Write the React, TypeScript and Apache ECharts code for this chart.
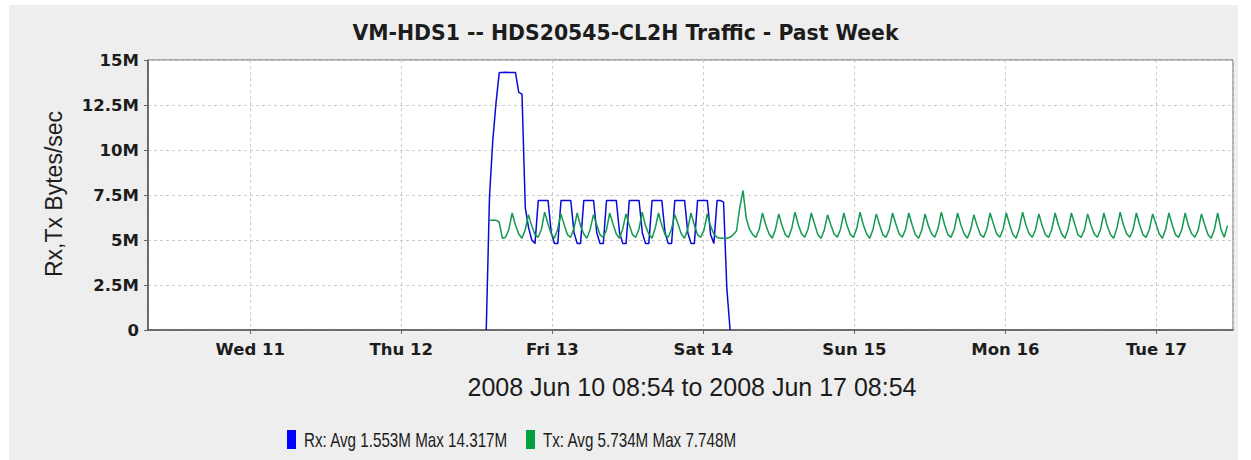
import React, { useEffect, useRef } from "react";
import * as echarts from "echarts";

const TITLE = "VM-HDS1 -- HDS20545-CL2H Traffic - Past Week";
const SUBTITLE = "2008 Jun 10 08:54 to 2008 Jun 17 08:54";
const Y_NAME = "Rx,Tx Bytes/sec";
const WEEKDAYS = ["Sun", "Mon", "Tue", "Wed", "Thu", "Fri", "Sat"];
const LEGEND_RX = "Rx: Avg 1.553M Max 14.317M";
const LEGEND_TX = "Tx: Avg 5.734M Max 7.748M";

// axis window (local time) [y, monthIndex, d, h, m]
const AXIS_START = [2008, 5, 10, 7, 45];
const AXIS_END = [2008, 5, 17, 12, 10];
const Y_MAX = 15e6;
const Y_STEP = 2.5e6;

// sampling of both series
const SAMPLE_MINUTES = 31;
const RX_START = [2008, 5, 12, 13, 30];
const TX_START = [2008, 5, 12, 14, 0];

// Rx, in MBytes/sec
const RX_VALUES_M = [
  0, 7.4, 10.5, 12.6, 14.3, 14.3, 14.317, 14.3, 14.3, 14.3, 13.2, 13.1, 6.8, 5.7, 5.0, 4.8,
  7.2, 7.2, 7.2, 7.2, 5.4, 4.8, 4.8,
  7.2, 7.2, 7.2, 7.2, 5.4, 4.8, 4.8,
  7.2, 7.2, 7.2, 7.2, 5.4, 4.8, 4.8,
  7.2, 7.2, 7.2, 7.2, 5.4, 4.8, 4.8,
  7.2, 7.2, 7.2, 7.2, 5.4, 4.8, 4.8,
  7.2, 7.2, 7.2, 7.2, 5.4, 4.8, 4.8,
  7.2, 7.2, 7.2, 7.2, 5.4, 4.8, 4.8,
  7.2, 7.2, 7.2, 7.2, 5.3, 4.8,
  7.2, 7.2, 7.1, 2.3, 0,
];

// Tx, in MBytes/sec
const TX_VALUES_M = [
  6.1, 6.1, 6.1, 6.0, 5.1,
  5.15, 5.6, 6.5, 5.85, 5.35,
  5.1, 5.55, 6.4, 5.8, 5.3,
  5.15, 5.6, 6.55, 5.9, 5.35,
  5.1, 5.6, 6.45, 5.85, 5.3,
  5.15, 5.65, 6.5, 5.8, 5.35,
  5.1, 5.6, 6.4, 5.85, 5.3,
  5.15, 5.55, 6.5, 5.9, 5.35,
  5.1, 5.6, 6.45, 5.85, 5.3,
  5.15, 5.6, 6.55, 5.8, 5.35,
  5.1, 5.65, 6.5, 5.85, 5.3,
  5.15, 5.6, 6.4, 5.9, 5.35,
  5.1, 5.6, 6.5, 5.85, 5.3,
  5.15, 5.55, 6.45, 5.8, 5.35,
  5.15, 5.1, 5.1, 5.1, 5.15,
  5.3, 5.5, 6.8, 7.75, 6.2,
  5.6, 5.3,
  5.15, 5.6, 6.5, 5.85, 5.35,
  5.1, 5.6, 6.45, 5.8, 5.3,
  5.15, 5.65, 6.55, 5.85, 5.35,
  5.15, 5.6, 6.5, 5.9, 5.3,
  5.1, 5.55, 6.4, 5.85, 5.35,
  5.15, 5.6, 6.5, 5.8, 5.3,
  5.15, 5.65, 6.55, 5.85, 5.35,
  5.1, 5.6, 6.45, 5.85, 5.3,
  5.15, 5.6, 6.5, 5.9, 5.35,
  5.15, 5.6, 6.5, 5.85, 5.3,
  5.1, 5.55, 6.45, 5.8, 5.35,
  5.15, 5.65, 6.55, 5.85, 5.3,
  5.15, 5.6, 6.5, 5.85, 5.35,
  5.1, 5.55, 6.4, 5.8, 5.3,
  5.15, 5.6, 6.5, 5.9, 5.35,
  5.15, 5.6, 6.5, 5.85, 5.3,
  5.1, 5.65, 6.55, 5.85, 5.35,
  5.15, 5.6, 6.45, 5.8, 5.3,
  5.15, 5.6, 6.5, 5.85, 5.35,
  5.1, 5.6, 6.5, 5.9, 5.3,
  5.15, 5.55, 6.45, 5.85, 5.35,
  5.15, 5.6, 6.5, 5.8, 5.3,
  5.1, 5.65, 6.55, 5.85, 5.35,
  5.15, 5.6, 6.5, 5.85, 5.3,
  5.15, 5.6, 6.45, 5.9, 5.35,
  5.1, 5.6, 6.5, 5.85, 5.3,
  5.15, 5.6, 6.5, 5.8, 5.35,
  5.15, 5.55, 6.45, 5.85, 5.3,
  5.1, 5.6, 6.5, 5.6, 5.15,
  5.8,
];

const toTime = (a: number[]) => new Date(a[0], a[1], a[2], a[3], a[4]).getTime();
const buildSeries = (start: number[], values: number[]) => {
  const t0 = toTime(start);
  return values.map((v, i) => [t0 + i * SAMPLE_MINUTES * 60000, v * 1e6]);
};

const TEXT = "#1c1c1c";
const RX_LINE = "#0a0ad8";
const TX_LINE = "#139a4e";
const RX_KEY = "#0000ff";
const TX_KEY = "#00a040";
const TICK_FONT = "'DejaVu Sans', sans-serif";
const PLAIN_FONT = "'Liberation Sans', Arial, sans-serif";

const legendItem = (x: number, color: string, text: string) => ({
  type: "group",
  x,
  y: 430,
  children: [
    { type: "rect", shape: { x: 0, y: 0, width: 9, height: 19 }, style: { fill: color } },
    {
      type: "text",
      x: 17,
      y: 10.5,
      scaleX: 0.76,
      style: {
        text,
        fontFamily: PLAIN_FONT,
        fontSize: 20,
        fill: TEXT,
        align: "left",
        verticalAlign: "middle",
      },
    },
  ],
});

export default function App() {
  const ref = useRef<HTMLDivElement>(null);
  useEffect(() => {
    const el = ref.current;
    if (!el) return;
    const chart = echarts.init(el, null, { renderer: "svg" });
    const option: any = {
      animation: false,
      backgroundColor: "transparent",
      title: {
        text: TITLE,
        left: "center",
        top: 18,
        textStyle: { fontFamily: TICK_FONT, fontWeight: "bold", fontSize: 20.4, color: TEXT },
      },
      grid: {
        left: 148,
        top: 60,
        right: 18,
        bottom: 130,
        show: true,
        backgroundColor: "#ffffff",
        borderColor: "#666666",
        borderWidth: 1,
      },
      xAxis: {
        type: "time",
        min: toTime(AXIS_START),
        max: toTime(AXIS_END),
        minInterval: 86400000,
        maxInterval: 86400000,
        splitNumber: 7,
        axisLine: { lineStyle: { color: "#555555", width: 1.5 } },
        axisTick: { show: true, length: 4, lineStyle: { color: "#666666" } },
        axisLabel: {
          showMinLabel: false,
          showMaxLabel: false,
          margin: 11,
          fontFamily: TICK_FONT,
          fontWeight: "bold",
          fontSize: 16.5,
          color: TEXT,
          formatter: (v: number) => {
            const d = new Date(v);
            return WEEKDAYS[d.getDay()] + " " + d.getDate();
          },
        },
        splitLine: { show: true, lineStyle: { color: "#cccccc", type: [3, 3], width: 1 } },
      },
      yAxis: {
        type: "value",
        min: 0,
        max: Y_MAX,
        interval: Y_STEP,
        axisLine: { show: true, lineStyle: { color: "#555555", width: 1.5 } },
        axisTick: { show: true, length: 4, lineStyle: { color: "#666666" } },
        axisLabel: {
          margin: 9,
          fontFamily: TICK_FONT,
          fontWeight: "bold",
          fontSize: 16.5,
          color: TEXT,
          formatter: (v: number) => (v === 0 ? "0" : v / 1e6 + "M"),
        },
        splitLine: { show: true, lineStyle: { color: "#cccccc", type: [3, 3], width: 1 } },
      },
      graphic: [
        {
          type: "text",
          x: 54,
          y: 194,
          rotation: Math.PI / 2,
          style: {
            text: Y_NAME,
            fontFamily: PLAIN_FONT,
            fontSize: 23,
            fill: TEXT,
            align: "center",
            verticalAlign: "middle",
          },
        },
        {
          type: "text",
          x: 692,
          y: 387,
          style: {
            text: SUBTITLE,
            fontFamily: PLAIN_FONT,
            fontSize: 25,
            fill: TEXT,
            align: "center",
            verticalAlign: "middle",
          },
        },
        legendItem(287, RX_KEY, LEGEND_RX),
        legendItem(526, TX_KEY, LEGEND_TX),
      ],
      series: [
        {
          name: "Rx",
          type: "line",
          showSymbol: false,
          symbol: "none",
          itemStyle: { color: RX_LINE },
          lineStyle: { color: RX_LINE, width: 1.5 },
          data: buildSeries(RX_START, RX_VALUES_M),
        },
        {
          name: "Tx",
          type: "line",
          showSymbol: false,
          symbol: "none",
          itemStyle: { color: TX_LINE },
          lineStyle: { color: TX_LINE, width: 1.5 },
          data: buildSeries(TX_START, TX_VALUES_M),
        },
      ],
    };
    chart.setOption(option);
    return () => chart.dispose();
  }, []);
  return (
    <div style={{ position: "fixed", left: 0, top: 0, width: 1251, height: 460, background: "#ffffff" }}>
      <div style={{ position: "absolute", left: 9, top: 5, width: 1229, height: 455, background: "#eeeeee" }} />
      <div ref={ref} style={{ position: "absolute", left: 0, top: 0, width: 1251, height: 460 }} />
    </div>
  );
}
